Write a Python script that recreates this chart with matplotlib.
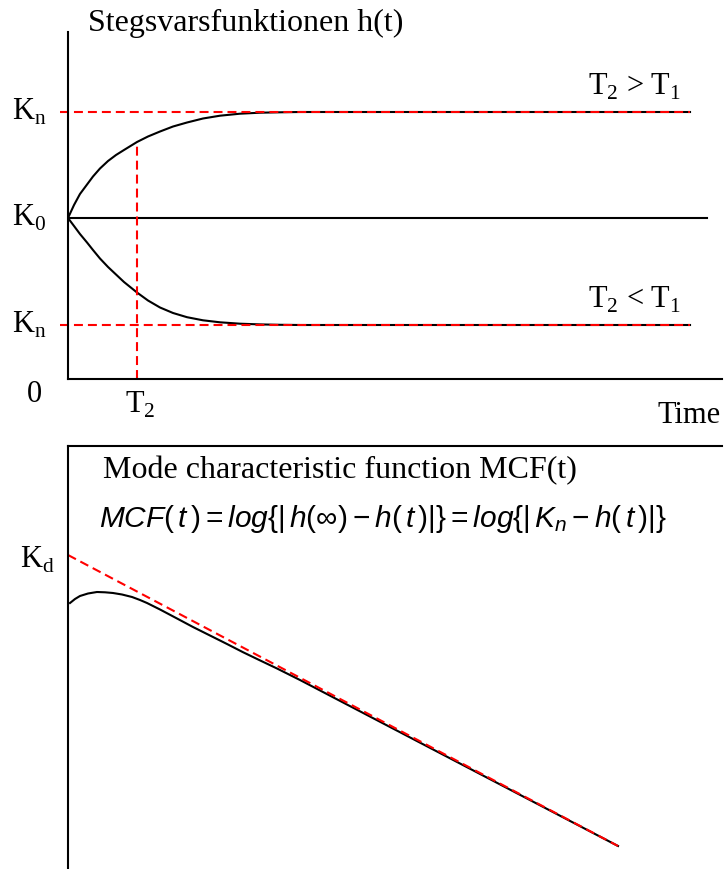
import matplotlib
matplotlib.use("Agg")
import matplotlib.pyplot as plt
from matplotlib import transforms

## --fonts
plt.rcParams["font.family"] = ["Liberation Serif", "DejaVu Serif"]
plt.rcParams["mathtext.fontset"] = "custom"
plt.rcParams["mathtext.rm"] = "Liberation Sans"
plt.rcParams["mathtext.it"] = "Liberation Sans:italic"
plt.rcParams["mathtext.sf"] = "Liberation Sans"

## --data (time in arbitrary units)
K0 = 1.61
Kn_up = 2.67
Kn_low = 0.54
T2 = 1.055
t_end = 9.51
t_ref_end = 9.77

t_step = [0, 0.092, 0.183, 0.291, 0.382, 0.489, 0.612, 0.734, 0.856, 1.055, 1.223,
          1.407, 1.606, 1.820, 2.064, 2.324, 2.630, 2.936, 3.242, 3.547, 9.511]
h_up   = [1.61, 1.74, 1.85, 1.945, 2.025, 2.105, 2.18, 2.24, 2.29, 2.37, 2.425,
          2.475, 2.525, 2.565, 2.605, 2.633, 2.653, 2.663, 2.667, 2.67, 2.67]
h_down = [1.61, 1.53, 1.45, 1.365, 1.29, 1.205, 1.12, 1.045, 0.97, 0.865, 0.785,
          0.715, 0.66, 0.618, 0.587, 0.567, 0.553, 0.546, 0.542, 0.54, 0.54]

# mode characteristic function
t_fit = [0, 8.41]
mcf_fit = [3.14, 0.23]
t_mcf = [0.031, 0.107, 0.183, 0.306, 0.443, 0.566, 0.688, 0.826, 0.979, 1.101, 1.208,
         1.407, 1.667, 1.911, 2.171, 2.431, 2.676, 2.936, 3.196, 3.547, 8.410]
mcf   = [2.66, 2.70, 2.73, 2.755, 2.77, 2.767, 2.76, 2.745, 2.72, 2.69, 2.66,
         2.595, 2.505, 2.42, 2.335, 2.25, 2.168, 2.086, 2.005, 1.89, 0.23]

W, H = 725, 869
fig = plt.figure(figsize=(W / 100, H / 100), dpi=100)

def px(x, y):
    return x / W, 1 - y / H

lw = 1.5
dash = (4.3, 2.4)

## --top panel: step response
ax1 = fig.add_axes([68 / W, 1 - 379 / H, 654 / W, 347 / H])
ax1.set_xlim(0, 10)
ax1.set_ylim(0, 3.47)
for s in ["top", "right"]:
    ax1.spines[s].set_visible(False)
for s in ["left", "bottom"]:
    ax1.spines[s].set_linewidth(lw)
ax1.set_xticks([])
ax1.set_yticks([])
ax1.patch.set_alpha(0)

ax1.plot([0, t_ref_end], [K0, K0], color="black", lw=lw)
ax1.plot(t_step, h_up, color="black", lw=lw)
ax1.plot(t_step, h_down, color="black", lw=lw)
ax1.plot([-0.12, t_end], [Kn_up, Kn_up], color="red", lw=lw, dashes=dash, clip_on=False)
ax1.plot([-0.12, t_end], [Kn_low, Kn_low], color="red", lw=lw, dashes=dash, clip_on=False)
ax1.plot([T2, T2], [0, h_up[9]], color="red", lw=lw, dashes=dash)

blend = transforms.blended_transform_factory(fig.transFigure, ax1.transData)
fs = 22
ax1.text(12 / W, Kn_up, r"K$_{\mathregular{n}}$", transform=blend, fontsize=fs, va="center", ha="left")
ax1.text(12 / W, K0, r"K$_{\mathregular{0}}$", transform=blend, fontsize=fs, va="center", ha="left")
ax1.text(12 / W, Kn_low, r"K$_{\mathregular{n}}$", transform=blend, fontsize=fs, va="center", ha="left")

fig.text(*px(88, 31), "Stegsvarsfunktionen h(t)", fontsize=23, va="baseline", ha="left")
fig.text(*px(588, 95), r"T$_{\mathregular{2}}$ > T$_{\mathregular{1}}$", fontsize=fs, va="baseline", ha="left")
fig.text(*px(588, 308), r"T$_{\mathregular{2}}$ < T$_{\mathregular{1}}$", fontsize=fs, va="baseline", ha="left")
fig.text(*px(34.5, 402), "0", fontsize=fs, va="baseline", ha="center")
fig.text(*px(125, 413), r"T$_{\mathregular{2}}$", fontsize=fs, va="baseline", ha="left")
fig.text(*px(721, 423), "Time", fontsize=fs, va="baseline", ha="right")

## --bottom panel: MCF
ax2 = fig.add_axes([68 / W, 0, 654 / W, 1 - 446 / H])
ax2.set_xlim(0, 10)
ax2.set_ylim(0, 4.23)
for s in ["bottom", "right"]:
    ax2.spines[s].set_visible(False)
for s in ["left", "top"]:
    ax2.spines[s].set_linewidth(lw)
ax2.set_xticks([])
ax2.set_yticks([])
ax2.patch.set_alpha(0)

ax2.plot(t_mcf, mcf, color="black", lw=lw)
ax2.plot(t_fit, mcf_fit, color="red", lw=lw, dashes=dash)

fig.text(*px(20, 568), r"K$_{\mathregular{d}}$", fontsize=fs, va="baseline", ha="left")
fig.text(*px(103, 478), "Mode characteristic function MCF(t)", fontsize=23, va="baseline", ha="left")
fig.text(*px(99, 519),
         r"$MCF(\,t\,) = log\{|\,h(\infty) - h(\,t\,)|\} = log\{|\,K_n - h(\,t\,)|\}$",
         fontsize=21.5, va="center", ha="left")

fig.savefig("out.png", dpi=100)
